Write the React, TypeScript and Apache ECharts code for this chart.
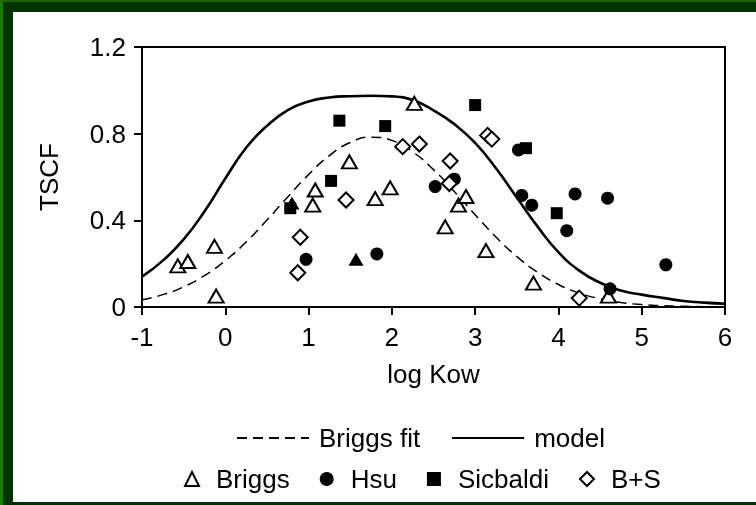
import React, { useEffect, useRef } from "react";
import * as echarts from "echarts";

const FONT = "'Liberation Sans', Arial, Helvetica, sans-serif";

// Curves (log Kow, TSCF)
const curveX = [-1, -0.75, -0.5, -0.25, 0, 0.25, 0.5, 0.75, 1, 1.25, 1.5, 1.75, 2, 2.25, 2.5, 2.75, 3, 3.25, 3.5, 3.75, 4, 4.25, 4.5, 4.75, 5, 5.25, 5.5, 5.75, 6];
const briggsFitY = [0.033, 0.057, 0.093, 0.145, 0.214, 0.3, 0.401, 0.508, 0.611, 0.699, 0.759, 0.784, 0.769, 0.716, 0.634, 0.533, 0.426, 0.323, 0.233, 0.16, 0.104, 0.064, 0.038, 0.021, 0.011, 0.006, 0.003, 0.0015, 0.001];
const modelY = [0.14, 0.214, 0.312, 0.441, 0.593, 0.735, 0.836, 0.909, 0.949, 0.967, 0.973, 0.975, 0.972, 0.955, 0.908, 0.844, 0.757, 0.64, 0.505, 0.371, 0.253, 0.168, 0.112, 0.076, 0.057, 0.042, 0.028, 0.02, 0.015];

// Measured data
const briggsPts = [
  [-0.57, 0.19], [-0.45, 0.21], [-0.13, 0.28], [-0.11, 0.05], [1.05, 0.47], [1.08, 0.54],
  [1.49, 0.67], [1.8, 0.5], [1.98, 0.55], [2.27, 0.94], [2.64, 0.37], [2.8, 0.47],
  [2.89, 0.51], [3.13, 0.26], [3.7, 0.11], [4.6, 0.05],
];
const briggsFilledPts = [[0.8, 0.48], [1.57, 0.22]];
const hsuPts = [
  [0.97, 0.22], [1.82, 0.245], [2.52, 0.556], [2.75, 0.59], [3.52, 0.725], [3.56, 0.515],
  [3.68, 0.47], [4.1, 0.352], [4.2, 0.522], [4.59, 0.502], [4.62, 0.084], [5.29, 0.195],
];
const sicbaldiPts = [[0.78, 0.456], [1.27, 0.582], [1.37, 0.86], [1.92, 0.835], [3.0, 0.932], [3.61, 0.733], [3.98, 0.433]];
const bsPts = [
  [0.87, 0.158], [0.9, 0.322], [1.45, 0.494], [2.13, 0.74], [2.33, 0.752], [2.69, 0.57],
  [2.7, 0.674], [3.15, 0.792], [3.2, 0.775], [4.25, 0.041],
];

const xMin = -1, xMax = 6, xStep = 1;
const yMin = 0, yMax = 1.2, yStep = 0.4;

export default function App() {
  const ref = useRef<HTMLDivElement>(null);
  useEffect(() => {
    if (!ref.current) return;
    const chart = echarts.init(ref.current, null, { renderer: "svg" });
    const txt = { fontFamily: FONT, fontSize: 26, color: "#000" };
    const openStyle = { color: "#fff", borderColor: "#000", borderWidth: 2, opacity: 1 };
    const solidStyle = { color: "#000", opacity: 1 };
    chart.setOption({
      animation: false,
      graphic: [
        { type: "rect", z: -100, silent: true, shape: { x: 0, y: 0, width: 756, height: 505 }, style: { fill: "#003300" } },
        { type: "rect", z: -99, silent: true, shape: { x: 0, y: 0, width: 3, height: 505 }, style: { fill: "#1a7a00" } },
        { type: "rect", z: -99, silent: true, shape: { x: 0, y: 0, width: 756, height: 2 }, style: { fill: "#1a6600" } },
        { type: "rect", z: -98, silent: true, shape: { x: 13, y: 12, width: 743, height: 490 }, style: { fill: "#ffffff" } },
      ],
      grid: { left: 142, right: 31, top: 47, bottom: 198, show: true, borderColor: "#000", borderWidth: 2, backgroundColor: "transparent" },
      xAxis: {
        type: "value", min: xMin, max: xMax, interval: xStep,
        name: "log Kow", nameLocation: "middle", nameGap: 54, nameTextStyle: txt,
        axisLine: { show: true, onZero: false, lineStyle: { color: "#000", width: 2 } },
        axisTick: { show: true, inside: false, length: 8, lineStyle: { color: "#000", width: 2 } },
        axisLabel: { ...txt, margin: 17 },
        splitLine: { show: false },
      },
      yAxis: {
        type: "value", min: yMin, max: yMax, interval: yStep,
        name: "TSCF", nameLocation: "middle", nameGap: 80, nameTextStyle: txt,
        axisLine: { show: true, onZero: false, lineStyle: { color: "#000", width: 2 } },
        axisTick: { show: true, inside: false, length: 8, lineStyle: { color: "#000", width: 2 } },
        axisLabel: { ...txt, margin: 16, formatter: (v: number) => (v === 0 ? "0" : v.toFixed(1)) },
        splitLine: { show: false },
      },
      legend: [
        {
          data: ["Briggs fit", "model"], left: 231, top: 420, itemWidth: 72, itemHeight: 14, itemGap: 31,
          selectedMode: false, itemStyle: { opacity: 0 }, textStyle: { ...txt, padding: [0, 0, 0, 5] },
        },
        {
          data: ["Briggs", "Hsu", "Sicbaldi", "B+S"], left: 179, top: 461, itemWidth: 14, itemHeight: 14, itemGap: 30,
          selectedMode: false, textStyle: { ...txt, padding: [0, 0, 0, 12] },
        },
      ],
      series: [
        {
          name: "Briggs fit", type: "line", smooth: true, symbol: "none", z: 2,
          data: curveX.map((x, i) => [x, briggsFitY[i]]),
          itemStyle: { color: "#000" },
          lineStyle: { color: "#000", width: 1.5, type: [10, 6] },
        },
        {
          name: "model", type: "line", smooth: true, symbol: "none", z: 2,
          data: curveX.map((x, i) => [x, modelY[i]]),
          itemStyle: { color: "#000" },
          lineStyle: { color: "#000", width: 2.6 },
        },
        { name: "Briggs", type: "scatter", symbol: "triangle", symbolSize: [15, 13], data: briggsPts, itemStyle: openStyle, z: 3 },
        { name: "Briggs (filled)", type: "scatter", symbol: "triangle", symbolSize: [15, 13], data: briggsFilledPts, itemStyle: solidStyle, z: 3 },
        { name: "Hsu", type: "scatter", symbol: "circle", symbolSize: 13, data: hsuPts, itemStyle: solidStyle, z: 4 },
        { name: "Sicbaldi", type: "scatter", symbol: "rect", symbolSize: 12, data: sicbaldiPts, itemStyle: solidStyle, z: 5 },
        { name: "B+S", type: "scatter", symbol: "diamond", symbolSize: 15, data: bsPts, itemStyle: openStyle, z: 6 },
      ],
    });
    return () => chart.dispose();
  }, []);
  return <div ref={ref} style={{ position: "fixed", left: 0, top: 0, width: 756, height: 505 }} />;
}
